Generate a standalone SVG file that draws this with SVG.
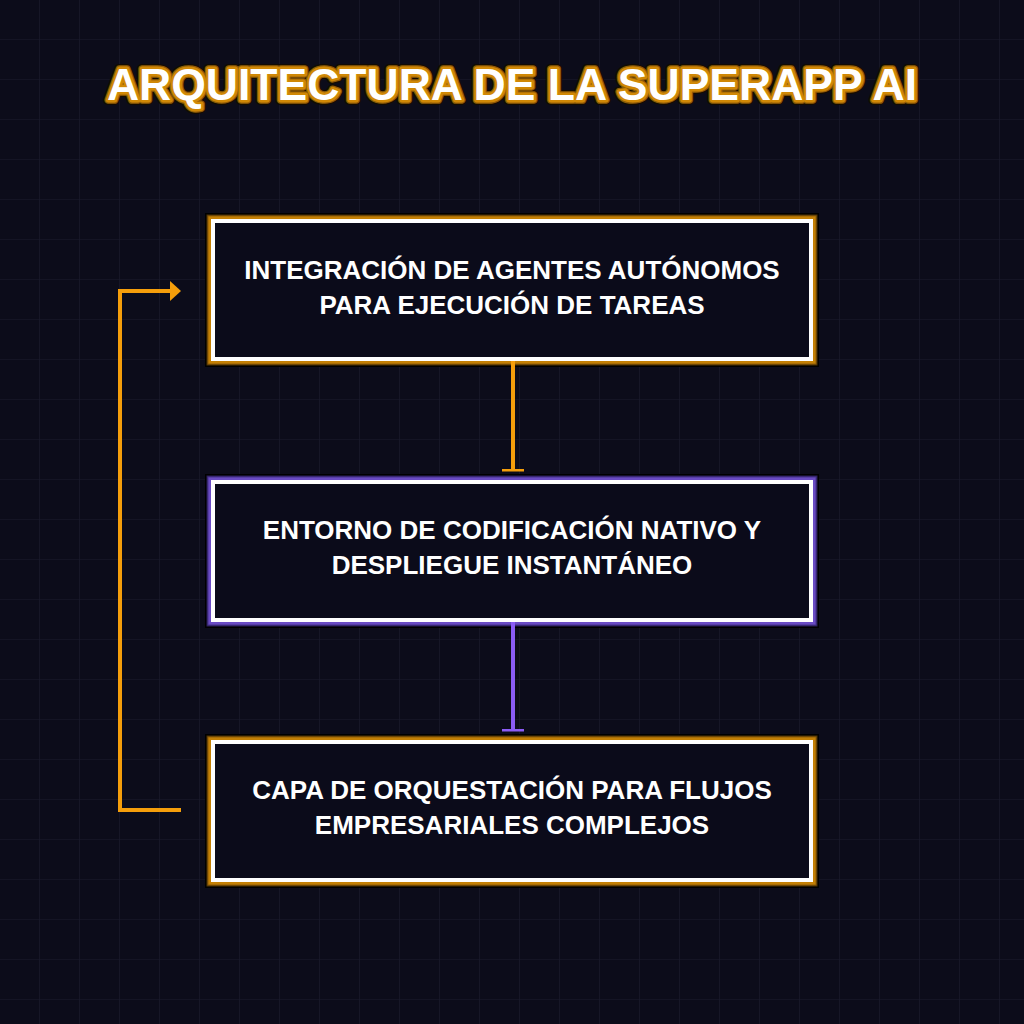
<svg xmlns="http://www.w3.org/2000/svg" width="1024" height="1024" viewBox="0 0 1024 1024">
  <defs>
    <pattern id="grid" width="40" height="40" patternUnits="userSpaceOnUse">
      <path d="M40 0 V40 M0 40 H40" fill="none" stroke="#1b1b2e" stroke-width="1.2"/>
    </pattern>
    <marker id="teeO" markerWidth="3" markerHeight="22" refX="1.5" refY="11" orient="auto" markerUnits="userSpaceOnUse" viewBox="0 0 3 22">
      <rect x="0" y="0" width="3" height="22" fill="#f59e0b"/>
    </marker>
    <marker id="teeP" markerWidth="3" markerHeight="22" refX="1.5" refY="11" orient="auto" markerUnits="userSpaceOnUse" viewBox="0 0 3 22">
      <rect x="0" y="0" width="3" height="22" fill="#8b5cf6"/>
    </marker>
  </defs>
  <style>
    .b0 { fill: none; stroke: #000000; stroke-width: 16; }
    .o1 { fill: none; stroke: #4e3303; stroke-width: 13; }
    .o2 { fill: none; stroke: #8e5c08; stroke-width: 11; }
    .o3 { fill: none; stroke: #c48005; stroke-width: 9; }
    .p1 { fill: none; stroke: #2a1e58; stroke-width: 13; }
    .p2 { fill: none; stroke: #47338c; stroke-width: 11; }
    .p3 { fill: none; stroke: #6a4bc4; stroke-width: 9; }
    .wt { fill: #0b0b1a; stroke: #ffffff; stroke-width: 4; }
    .lbl { font-family: "Liberation Sans", Arial, sans-serif; font-weight: bold; font-size: 26px; fill: #ffffff; text-anchor: middle; }
    .title { font-family: "Liberation Sans", Arial, sans-serif; font-weight: bold; font-size: 44.5px; text-anchor: middle; }
    .conn { fill: none; stroke-width: 4; }
  </style>
  <rect x="0" y="0" width="1024" height="1024" fill="#0c0c1a"/>
  <rect x="0" y="0" width="1024" height="1024" fill="url(#grid)"/>

  <g id="title">
    <text class="title" x="512" y="100" fill="none" stroke="#140c00" stroke-width="10" stroke-linejoin="round">ARQUITECTURA DE LA SUPERAPP AI</text>
    <text class="title" x="512" y="100" fill="none" stroke="#8e5c08" stroke-width="7.5" stroke-linejoin="round">ARQUITECTURA DE LA SUPERAPP AI</text>
    <text class="title" x="512" y="100" fill="none" stroke="#d08806" stroke-width="5" stroke-linejoin="round">ARQUITECTURA DE LA SUPERAPP AI</text>
    <text class="title" x="512" y="100" fill="#ffffff">ARQUITECTURA DE LA SUPERAPP AI</text>
  </g>

  <g id="node1">
    <rect class="b0" x="213" y="221" width="598" height="138"/>
    <rect class="o1" x="213" y="221" width="598" height="138"/>
    <rect class="o2" x="213" y="221" width="598" height="138"/>
    <rect class="o3" x="213" y="221" width="598" height="138"/>
    <rect class="wt" x="213" y="221" width="598" height="138"/>
    <text class="lbl" x="512" y="278.5">INTEGRACIÓN DE AGENTES AUTÓNOMOS</text>
    <text class="lbl" x="512" y="313.5">PARA EJECUCIÓN DE TAREAS</text>
  </g>

  <g id="node2">
    <rect class="b0" x="213" y="482" width="598" height="138"/>
    <rect class="p1" x="213" y="482" width="598" height="138"/>
    <rect class="p2" x="213" y="482" width="598" height="138"/>
    <rect class="p3" x="213" y="482" width="598" height="138"/>
    <rect class="wt" x="213" y="482" width="598" height="138"/>
    <text class="lbl" x="512" y="538.5">ENTORNO DE CODIFICACIÓN NATIVO Y</text>
    <text class="lbl" x="512" y="573.5">DESPLIEGUE INSTANTÁNEO</text>
  </g>

  <g id="node3">
    <rect class="b0" x="213" y="742" width="598" height="138"/>
    <rect class="o1" x="213" y="742" width="598" height="138"/>
    <rect class="o2" x="213" y="742" width="598" height="138"/>
    <rect class="o3" x="213" y="742" width="598" height="138"/>
    <rect class="wt" x="213" y="742" width="598" height="138"/>
    <text class="lbl" x="512" y="798.5">CAPA DE ORQUESTACIÓN PARA FLUJOS</text>
    <text class="lbl" x="512" y="833.5">EMPRESARIALES COMPLEJOS</text>
  </g>

  <g id="connectors">
    <path class="conn" d="M513 361 V470" stroke="#f59e0b" marker-end="url(#teeO)"/>
    <path class="conn" d="M513 622 V730" stroke="#8b5cf6" marker-end="url(#teeP)"/>
    <path class="conn" d="M181 810 H120 V291 H172" stroke="#f59e0b"/>
    <polygon points="170,281 181,291 170,301" fill="#f59e0b"/>
  </g>
</svg>
